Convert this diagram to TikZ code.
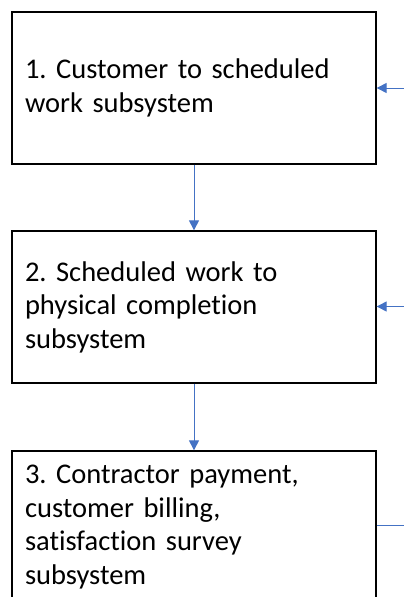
\documentclass[tikz,border=0pt]{standalone}
\usepackage{fontspec}
\setmainfont[Ligatures=NoCommon]{Carlito}
\frenchspacing
\usetikzlibrary{arrows.meta}

\definecolor{linkblue}{HTML}{4472C4}

\begin{document}
\begin{tikzpicture}[x=1pt,y=-1pt,
  subsys/.style={draw=black,line width=1.3pt,minimum width=364pt,minimum height=152pt,
    inner xsep=13pt,text width=338pt,align=left,
    font=\fontsize{28.5pt}{33.5pt}\selectfont},
  flow/.style={draw=linkblue,line width=1pt,-{Triangle[length=10pt,width=10pt]}}]

\useasboundingbox (0,0) rectangle (404,597);

% subsystems
\node[subsys] (s1) at (194,88)  {1. Customer to scheduled\\work subsystem};
\node[subsys] (s2) at (194,307) {2. Scheduled work to\\physical completion\\subsystem};
\node[subsys] (s3) at (194,527) {3. Contractor payment,\\customer billing,\\satisfaction survey\\subsystem};

% loose ends on the right
\coordinate (in1) at (406,88);
\coordinate (in2) at (406,306.5);
\coordinate (out3) at (406,525);

% connectors
\draw[flow] (s1) -- (s2);
\draw[flow] (s2) -- (s3);
\draw[flow] (in1) -- (s1.east |- in1);
\draw[flow] (in2) -- (s2.east |- in2);
\draw[draw=linkblue,line width=1pt] (s3.east |- out3) -- (out3);

\end{tikzpicture}
\end{document}
